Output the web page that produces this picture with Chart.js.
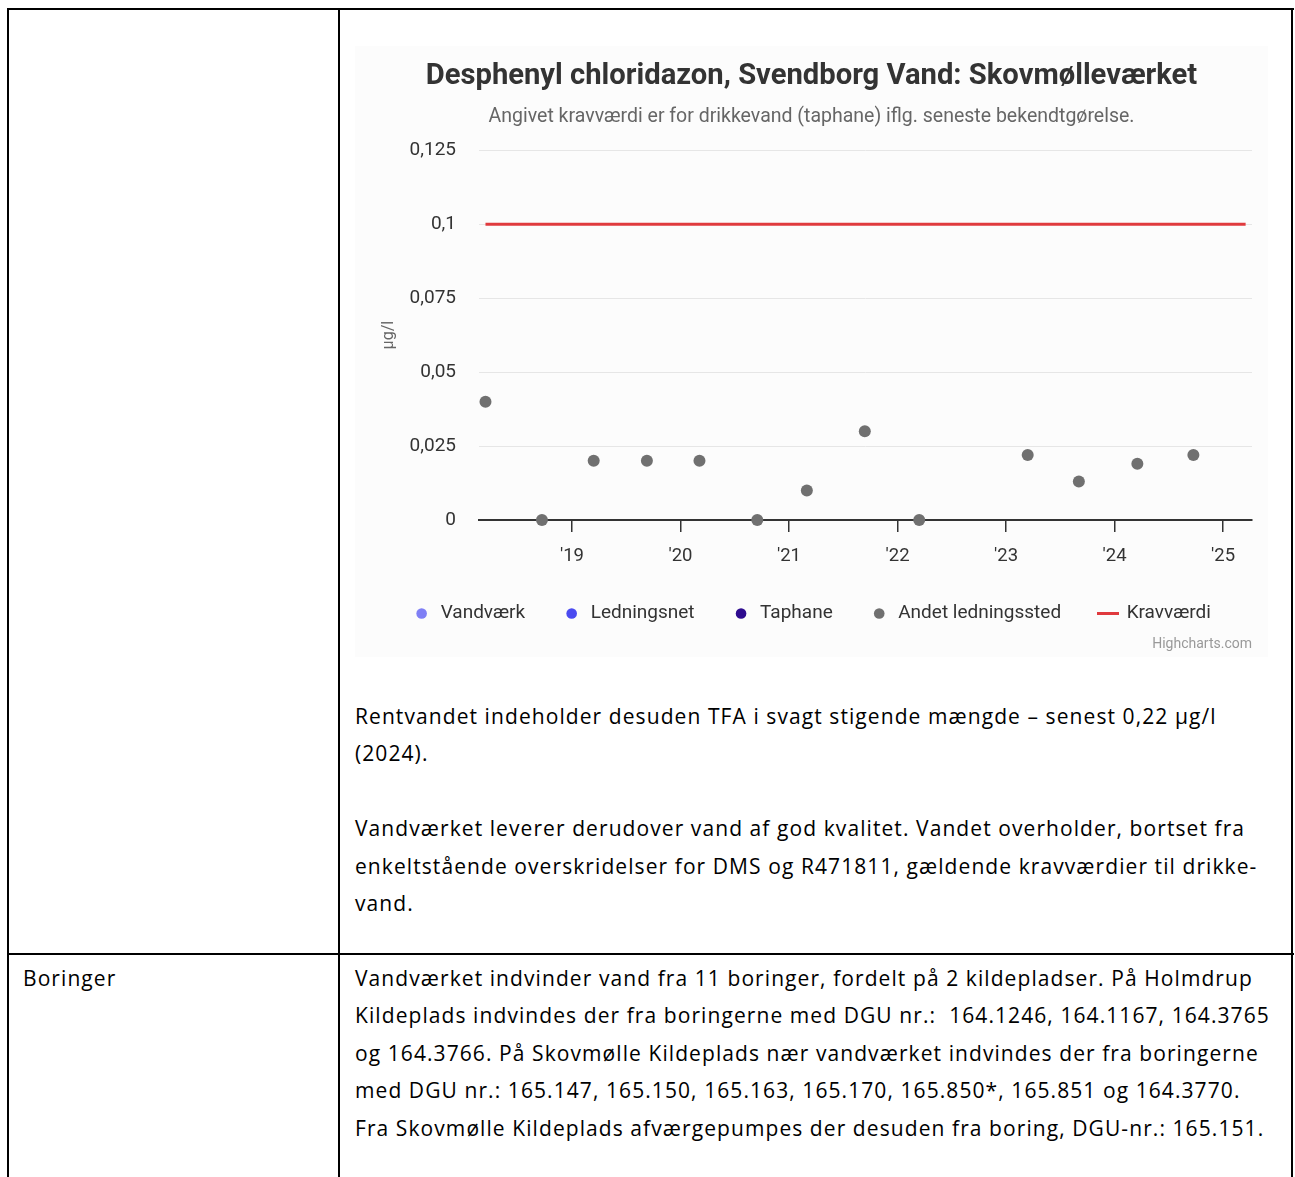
<!DOCTYPE html>
<html><head><meta charset="utf-8">
<script src="https://cdn.jsdelivr.net/npm/chart.js@4/dist/chart.umd.min.js"></script>
<style>
html,body{margin:0;padding:0;background:#fff;}
body{width:1295px;height:1177px;overflow:hidden;position:relative;}
.ln{position:absolute;background:#000;}
.txt{position:absolute;font-family:"Open Sans",Lato,sans-serif;font-size:21px;letter-spacing:1.08px;line-height:37.4px;color:#000;white-space:pre;}
#chartbox{position:absolute;left:355px;top:46px;width:913px;height:611px;background:#fcfcfc;}
#credits{position:absolute;right:43px;top:635px;font-family:Roboto,sans-serif;font-size:14px;color:#999;}
</style>
</head><body>
<div class="ln" style="left:7px;top:8px;width:1287px;height:2px"></div>
<div class="ln" style="left:7px;top:8px;width:2px;height:1169px"></div>
<div class="ln" style="left:338px;top:8px;width:2px;height:1169px"></div>
<div class="ln" style="left:1291px;top:8px;width:2px;height:1169px"></div>
<div class="ln" style="left:7px;top:953px;width:1287px;height:2px"></div>

<div id="chartbox"><canvas id="c" width="913" height="611"></canvas></div>
<div id="credits">Highcharts.com</div>

<div class="txt" style="left:355px;top:698px">Rentvandet indeholder desuden TFA i svagt stigende mængde – senest 0,22 µg/l
(2024).

Vandværket leverer derudover vand af god kvalitet. Vandet overholder, bortset fra
enkeltstående overskridelser for DMS og R471811, gældende kravværdier til drikke-
vand.</div>

<div class="txt" style="left:23px;top:960px">Boringer</div>
<div class="txt" style="left:355px;top:960px">Vandværket indvinder vand fra 11 boringer, fordelt på 2 kildepladser. På Holmdrup
Kildeplads indvindes der fra boringerne med DGU nr.:  164.1246, 164.1167, 164.3765
og 164.3766. På Skovmølle Kildeplads nær vandværket indvindes der fra boringerne
med DGU nr.: 165.147, 165.150, 165.163, 165.170, 165.850*, 165.851 og 164.3770.
Fra Skovmølle Kildeplads afværgepumpes der desuden fra boring, DGU-nr.: 165.151.</div>

<script>
// ---- data ----
const seriesNames = ['Vandværk', 'Ledningsnet', 'Taphane', 'Andet ledningssted', 'Kravværdi'];
const sampleDates = ['2018-03-16','2018-09-22','2019-03-15','2019-09-10','2020-03-05','2020-09-16','2021-03-02','2021-09-13','2022-03-15','2023-03-15','2023-09-03','2024-03-18','2024-09-23'];
const andetValues = [0.04, 0, 0.02, 0.02, 0.02, 0, 0.01, 0.03, 0, 0.022, 0.013, 0.019, 0.022];
const kravDates = ['2018-03-16', '2025-03-18'];
const kravValues = [0.1, 0.1];
const xTickYears = [2019, 2020, 2021, 2022, 2023, 2024, 2025];
const xTickLabels = ["'19", "'20", "'21", "'22", "'23", "'24", "'25"];
const yTickValues = [0, 0.025, 0.05, 0.075, 0.1, 0.125];
const yTickLabels = ['0', '0,025', '0,05', '0,075', '0,1', '0,125'];

function yearFrac(s) {
  const [y, m, d] = s.split('-').map(Number);
  const start = Date.UTC(y, 0, 1), end = Date.UTC(y + 1, 0, 1);
  return y + (Date.UTC(y, m - 1, d) - start) / (end - start);
}

const colors = ['#7f7ff5', '#4b4bf0', '#2e0c8f', '#707070', '#e03a3e'];

const lineIcon = document.createElement('canvas');
lineIcon.width = 22; lineIcon.height = 3;
(function(){ const g = lineIcon.getContext('2d'); g.fillStyle = colors[4]; g.fillRect(0, 0, 22, 3); })();

const emptySeries = (i) => ({label: seriesNames[i], data: [], showLine: false, pointStyle: 'circle',
  backgroundColor: colors[i], borderColor: colors[i], pointBorderWidth: 0, pointRadius: 6});

new Chart(document.getElementById('c'), {
  type: 'line',
  data: {
    datasets: [
      emptySeries(0), emptySeries(1), emptySeries(2),
      {label: seriesNames[3], data: sampleDates.map((d, i) => ({x: yearFrac(d), y: andetValues[i]})),
       showLine: false, pointStyle: 'circle', pointRadius: 6, pointHoverRadius: 6, pointBorderWidth: 0,
       backgroundColor: colors[3], borderColor: colors[3], clip: false},
      {label: seriesNames[4], data: kravDates.map((d, i) => ({x: yearFrac(d), y: kravValues[i]})),
       showLine: true, borderColor: colors[4], backgroundColor: colors[4], borderWidth: 3, pointRadius: 0, clip: false}
    ]
  },
  options: {
    responsive: false, animation: false, devicePixelRatio: 1, events: [],
    layout: {padding: {left: 0, right: 0, top: 0, bottom: 24}},
    plugins: {
      title: {display: true, text: 'Desphenyl chloridazon, Svendborg Vand: Skovmølleværket', color: '#333',
        font: {family: 'Roboto', size: 29.2, weight: 'bold', lineHeight: 1.2}, padding: {top: 13.6, bottom: 0}},
      subtitle: {display: true, text: 'Angivet kravværdi er for drikkevand (taphane) iflg. seneste bekendtgørelse.', color: '#666',
        font: {family: 'Roboto', size: 19.5, lineHeight: 1.2}, padding: {top: 10.9, bottom: 21.3}},
      legend: {position: 'bottom',
        labels: {usePointStyle: true, boxHeight: 7.5, boxWidth: 19, padding: 37, color: '#333',
          font: {family: 'Roboto', size: 19},
          generateLabels(chart) {
            const items = Chart.defaults.plugins.legend.labels.generateLabels(chart);
            items.forEach((it, i) => {
              it.lineWidth = 0;
              it.pointStyle = (i === 4) ? lineIcon : 'circle';
              it.fillStyle = colors[i];
              it.strokeStyle = colors[i];
            });
            return items;
          }}},
      tooltip: {enabled: false}
    },
    scales: {
      x: {type: 'linear', min: 2018.143, max: 2025.267,
        afterBuildTicks: s => { s.ticks = xTickYears.map(v => ({value: v})); },
        afterFit: s => { s.height = 47; },
        ticks: {callback: v => xTickLabels[xTickYears.indexOf(v)], color: '#333', font: {family: 'Roboto', size: 18.5},
          padding: 13, maxRotation: 0, autoSkip: false},
        grid: {drawOnChartArea: false, drawTicks: true, tickLength: 12, color: '#333', lineWidth: 1.5},
        border: {color: '#333', width: 2}},
      y: {type: 'linear', min: 0, max: 0.125,
        afterBuildTicks: s => { s.ticks = yTickValues.map(v => ({value: v})); },
        afterFit: s => { s.width = 124; },
        ticks: {callback: v => yTickLabels[yTickValues.indexOf(v)], color: '#333', font: {family: 'Roboto', size: 19}, padding: 23},
        grid: {color: '#e6e6e6', lineWidth: 1, drawTicks: false},
        border: {display: false},
        title: {display: true, text: 'µg/l', color: '#666', font: {family: 'Roboto', size: 16}, padding: {top: 24, bottom: 0}}},
      yRightSpace: {type: 'linear', axis: 'y', position: 'right', display: true,
        afterFit: s => { s.width = 16; },
        ticks: {display: false}, grid: {display: false, drawTicks: false}, border: {display: false}}
    }
  }
});
</script>
</body></html>
